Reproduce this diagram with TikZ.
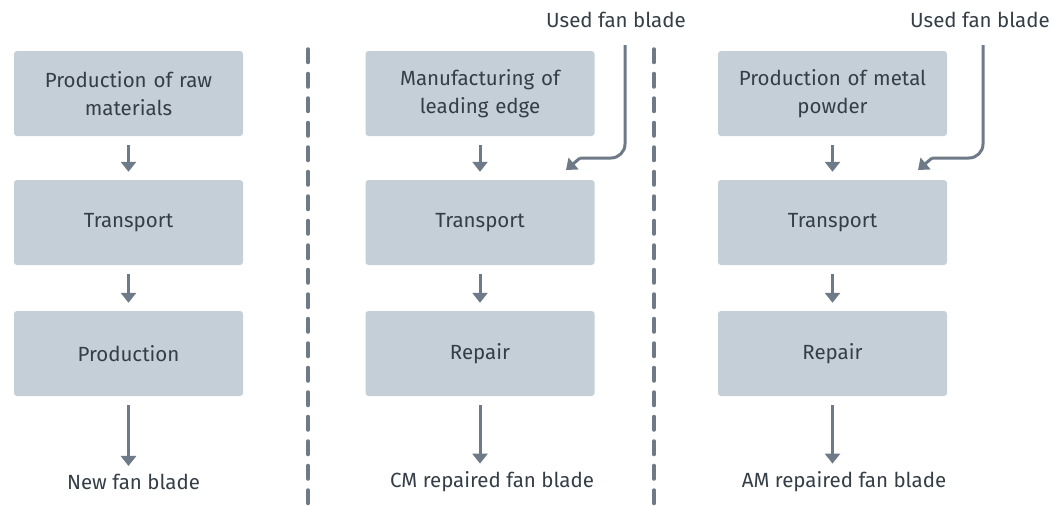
\documentclass[tikz,border=0pt]{standalone}
\usepackage{fontspec}
\setmainfont{Fira Sans}
\usetikzlibrary{arrows.meta}
\definecolor{boxfill}{HTML}{C5CFD8}
\definecolor{txt}{HTML}{353E47}
\definecolor{arr}{HTML}{6E7A87}
\begin{document}
\begin{tikzpicture}[x=1pt,y=-1pt,
  procbox/.style={fill=boxfill, rounded corners=3pt, minimum width=229pt, minimum height=85pt,
    text width=215pt, align=center, text=txt, font=\fontsize{20.5}{28}\selectfont},
  lbl/.style={text=txt, font=\fontsize{20.5}{24}\selectfont, inner sep=2pt},
  flow/.style={draw=arr, line width=3pt, -{Triangle[width=15pt,length=10pt]}},
  sep/.style={draw=arr, line width=3.5pt, line cap=round, dash pattern=on 13.5pt off 11pt}]
\useasboundingbox (0,0) rectangle (1054,506);
% column 1
\node[procbox] (a1) at (128.5,93.5) {Production of raw\\materials};
\node[procbox] (a2) at (128.5,222.5) {Transport};
\node[procbox] (a3) at (128.5,353.5) {Production};
\node[lbl] (an) at (133.5,482) {New fan blade};
% column 2
\node[procbox] (b1) at (480,93.5) {Manufacturing of\\leading edge};
\node[procbox] (b2) at (480,222.5) {Transport};
\node[procbox] (b3) at (480,353.5) {Repair};
\node[lbl] (bn) at (492,482) {CM repaired fan blade};
\node[lbl] (bu) at (616,20) {Used fan blade};
% column 3
\node[procbox] (c1) at (832.5,93.5) {Production of metal\\powder};
\node[procbox] (c2) at (832.5,222.5) {Transport};
\node[procbox] (c3) at (832.5,353.5) {Repair};
\node[lbl] (cn) at (844,482) {AM repaired fan blade};
\node[lbl] (cu) at (980,20) {Used fan blade};
% separators
\coordinate (s1t) at (308,49); \coordinate (s1b) at (308,510);
\coordinate (s2t) at (654,49); \coordinate (s2b) at (654,510);
\draw[sep] (s1t) -- (s1b);
\draw[sep] (s2t) -- (s2b);
% flows
\foreach \u/\v in {a1/a2,a2/a3,b1/b2,b2/b3,c1/c2,c2/c3}
  \draw[flow, shorten <=9pt, shorten >=8pt] (\u.south) -- (\v.north);
\draw[flow, shorten <=9pt, shorten >=6pt] (a3.south) -- (a3.south |- an.north);
\draw[flow, shorten <=9pt, shorten >=6pt] (b3.south) -- (b3.south |- bn.north);
\draw[flow, shorten <=9pt, shorten >=6pt] (c3.south) -- (c3.south |- cn.north);
% used fan blade inputs
\coordinate (bk1) at (625,45); \coordinate (bk2) at (580,158); \coordinate (bk3) at (566,170);
\draw[draw=arr, line width=3pt, rounded corners=14pt] (bk1) |- (bk2);
\draw[flow] (bk2) -- (bk3);
\coordinate (ck1) at (983,45); \coordinate (ck2) at (932,158); \coordinate (ck3) at (918,170);
\draw[draw=arr, line width=3pt, rounded corners=14pt] (ck1) |- (ck2);
\draw[flow] (ck2) -- (ck3);
\end{tikzpicture}
\end{document}
